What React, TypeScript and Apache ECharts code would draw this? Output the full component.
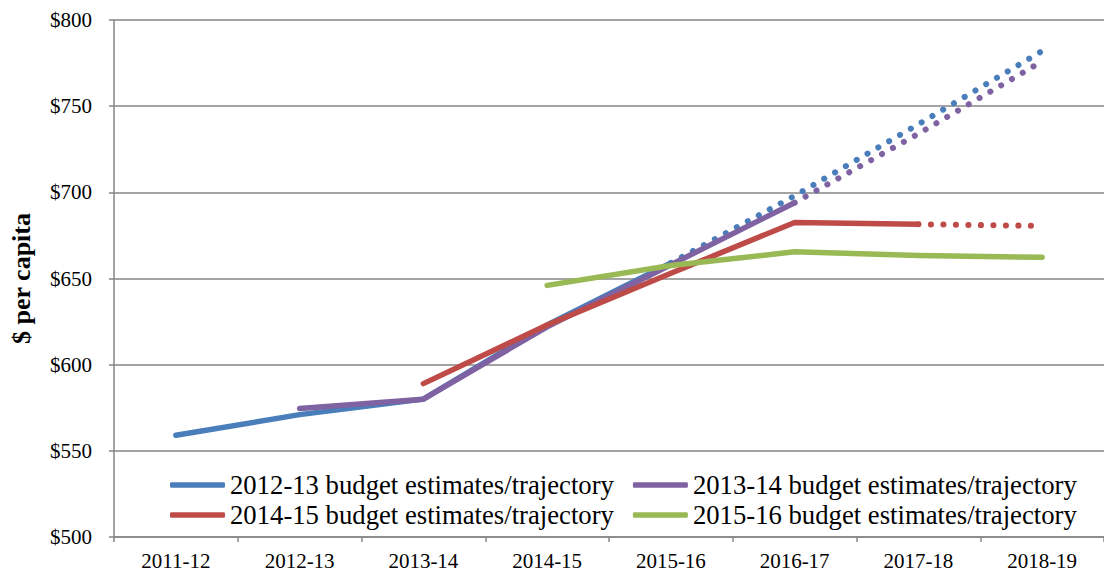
import React, { useEffect, useRef } from "react";
import * as echarts from "echarts";

const categories = ["2011-12", "2012-13", "2013-14", "2014-15", "2015-16", "2016-17", "2017-18", "2018-19"];
const yTicks = { min: 500, max: 800, interval: 50 };

const names = [
  "2012-13 budget estimates/trajectory",
  "2013-14 budget estimates/trajectory",
  "2014-15 budget estimates/trajectory",
  "2015-16 budget estimates/trajectory",
];

// solid (estimates) and dotted (trajectory) parts
const b1213Solid = [559, 571, 580, 623, 659, null, null, null];
const b1213Dotted = [null, null, null, null, 659, 698, 739.5, 782];
const b1314Solid = [null, 574.5, 580, 622, 658, 694, null, null];
const b1314Dotted = [null, null, null, null, null, 694, 734, 776];
const b1415Solid = [null, null, 589, 623, 653, 682.5, 681.5, null];
const b1415Dotted = [null, null, null, null, null, null, 681.5, 680.5];
const b1516Solid = [null, null, null, 646, 657.5, 665.5, 663.3, 662.3];

const colors = ["#4A7EBB", "#7E62A1", "#BE4B48", "#98B954"];

const FONT = "Liberation Serif";

export default function App() {
  const ref = useRef<HTMLDivElement>(null);
  useEffect(() => {
    if (!ref.current) return;
    const chart = echarts.init(ref.current, undefined, { renderer: "svg" });
    const solid = (name: string, data: (number | null)[], color: string) => ({
      name,
      type: "line",
      data,
      symbol: "none",
      showSymbol: false,
      connectNulls: false,
      lineStyle: { color, width: 5.5, cap: "round", join: "round" },
      itemStyle: { color },
    });
    const dotted = (name: string, data: (number | null)[], color: string) => ({
      name,
      type: "line",
      data,
      symbol: "none",
      showSymbol: false,
      lineStyle: { color, width: 6, type: [0.1, 12.4], cap: "round" },
      itemStyle: { color },
    });
    const legendCommon = {
      icon: "roundRect",
      itemWidth: 55,
      itemHeight: 5.5,
      itemGap: 19,
      padding: 0,
      left: 170,
      textStyle: { fontFamily: FONT, fontSize: 26.7, color: "#000", lineHeight: 28 },
    };
    chart.setOption({
      animation: false,
      backgroundColor: "#fff",
      textStyle: { fontFamily: FONT },
      grid: { left: 114, right: -5, top: 20, bottom: 36 },
      legend: [
        { ...legendCommon, top: 471, data: [names[0], names[1]] },
        { ...legendCommon, top: 501, data: [names[2], names[3]] },
      ],
      xAxis: {
        type: "category",
        data: categories,
        boundaryGap: true,
        axisLine: { lineStyle: { color: "#868686", width: 1.5 } },
        axisTick: { show: true, length: 5, inside: false, lineStyle: { color: "#868686", width: 1.5 } },
        axisLabel: { interval: 0, fontFamily: FONT, fontSize: 21, color: "#000", margin: 13 },
      },
      yAxis: {
        type: "value",
        min: yTicks.min,
        max: yTicks.max,
        interval: yTicks.interval,
        name: "$ per capita",
        nameLocation: "middle",
        nameRotate: 90,
        nameGap: 80,
        nameTextStyle: { fontFamily: FONT, fontSize: 26, fontWeight: "bold", color: "#000" },
        axisLine: { show: true, lineStyle: { color: "#868686", width: 1.5 } },
        axisTick: { show: true, length: 5, lineStyle: { color: "#868686", width: 1.5 } },
        axisLabel: { formatter: "${value}", fontFamily: FONT, fontSize: 21, color: "#000", margin: 22 },
        splitLine: { show: true, lineStyle: { color: "#868686", width: 1.5 } },
      },
      series: [
        solid(names[0], b1213Solid, colors[0]),
        dotted("2012-13 trajectory", b1213Dotted, colors[0]),
        solid(names[1], b1314Solid, colors[1]),
        dotted("2013-14 trajectory", b1314Dotted, colors[1]),
        solid(names[2], b1415Solid, colors[2]),
        dotted("2014-15 trajectory", b1415Dotted, colors[2]),
        solid(names[3], b1516Solid, colors[3]),
      ],
    });
    return () => chart.dispose();
  }, []);
  return (
    <div
      ref={ref}
      style={{ position: "fixed", left: 0, top: 0, width: 1104, height: 573, background: "#fff" }}
    />
  );
}
